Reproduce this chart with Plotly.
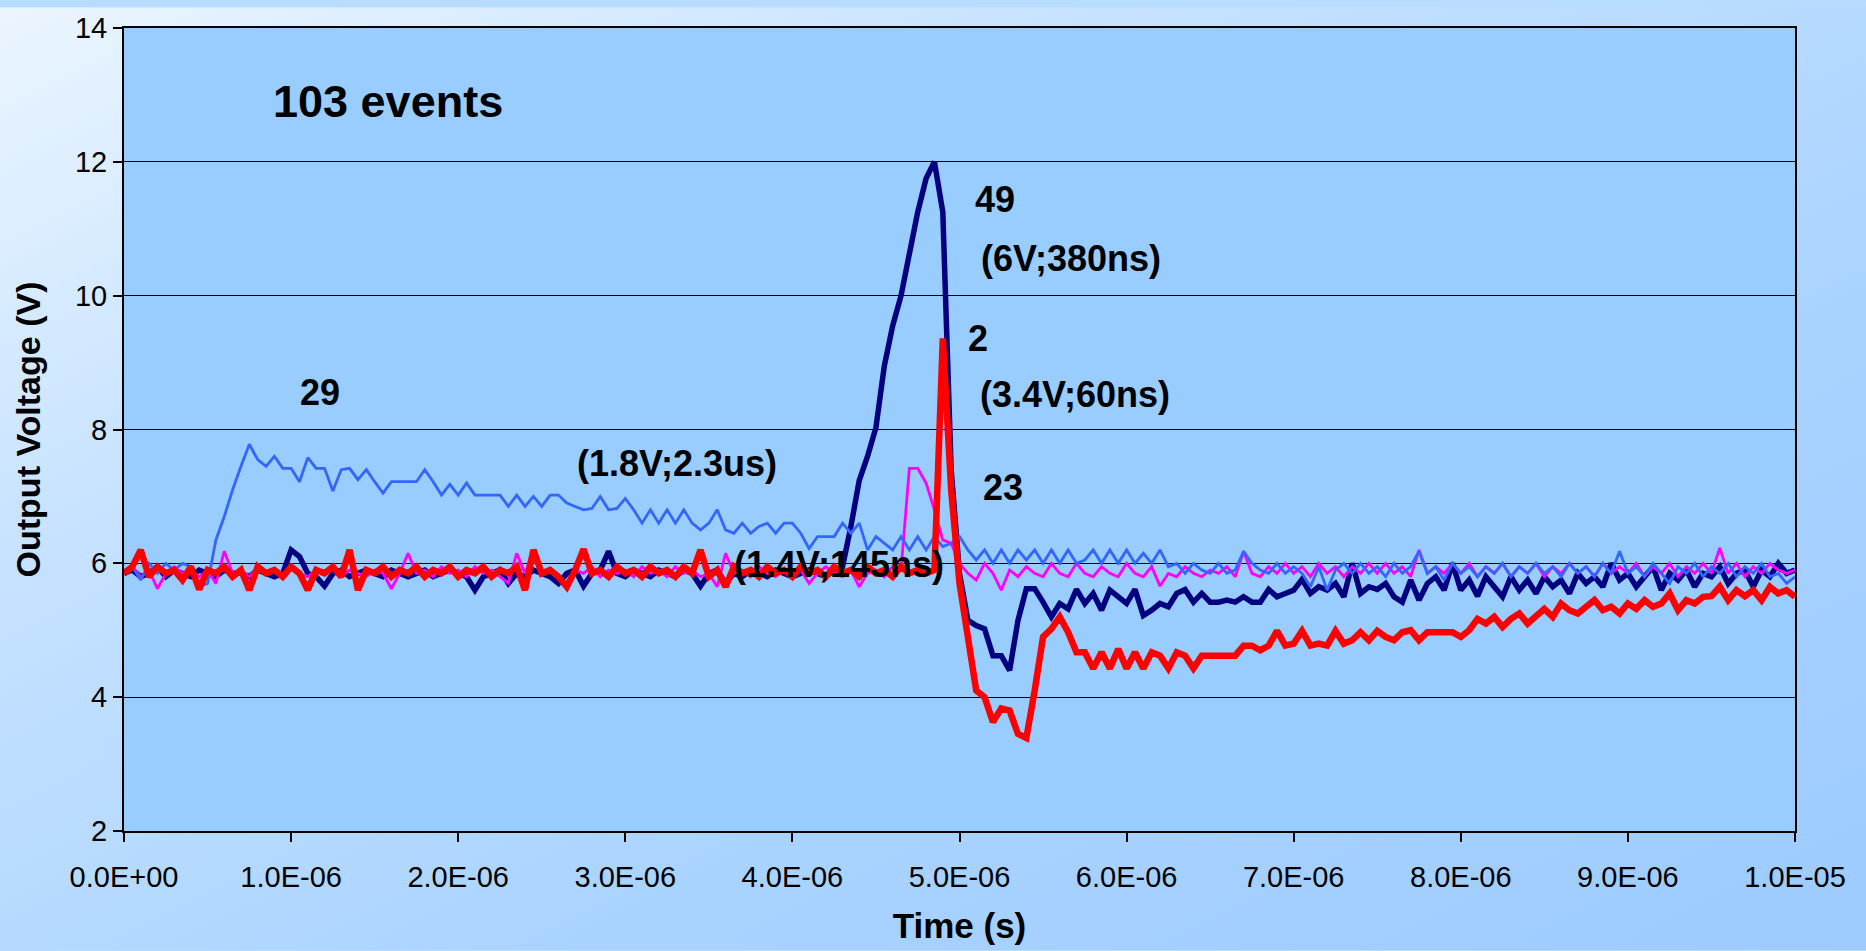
import base64
import plotly.graph_objects as go

# ---------------- data (time in microseconds, voltage in V) ----------------
t_us = [round(i * 0.05, 2) for i in range(201)]

v_29 = [
    5.90, 5.95, 5.75, 6.00, 5.85, 6.00, 5.90, 6.00, 5.95, 5.65,
    5.70, 6.35, 6.70, 7.10, 7.45, 7.78, 7.55, 7.45, 7.60, 7.42,
    7.42, 7.22, 7.58, 7.42, 7.42, 7.08, 7.40, 7.42, 7.25, 7.40,
    7.22, 7.05, 7.22, 7.22, 7.22, 7.22, 7.40, 7.22, 7.02, 7.18,
    7.02, 7.20, 7.02, 7.02, 7.02, 7.02, 6.85, 7.02, 6.85, 7.00,
    6.85, 7.02, 7.02, 6.90, 6.85, 6.80, 6.82, 7.00, 6.80, 6.82,
    6.97, 6.80, 6.60, 6.80, 6.60, 6.80, 6.60, 6.80, 6.60, 6.50,
    6.60, 6.80, 6.50, 6.45, 6.60, 6.45, 6.55, 6.60, 6.45, 6.60,
    6.60, 6.45, 6.22, 6.40, 6.40, 6.40, 6.60, 6.45, 6.60, 6.20,
    6.40, 6.30, 6.20, 6.40, 6.20, 6.40, 6.20, 6.40, 6.25, 6.30,
    6.40, 6.20, 6.05, 6.20, 6.00, 6.20, 6.00, 6.20, 6.05, 6.20,
    6.00, 6.20, 6.00, 6.20, 6.00, 6.05, 6.20, 6.00, 6.20, 6.00,
    6.20, 6.00, 6.15, 6.00, 6.20, 5.95, 6.00, 5.85, 6.00, 5.90,
    5.85, 6.00, 5.85, 5.90, 6.18, 6.00, 5.90, 5.85, 6.00, 5.85,
    5.95, 5.85, 5.65, 5.95, 5.60, 5.90, 6.00, 5.85, 6.00, 5.85,
    5.95, 5.80, 6.00, 5.85, 5.95, 6.18, 5.85, 5.95, 5.75, 6.00,
    5.85, 5.95, 5.80, 5.95, 5.85, 6.00, 5.80, 5.95, 5.85, 6.00,
    5.85, 5.95, 5.80, 6.00, 5.85, 5.95, 5.80, 6.00, 5.85, 6.18,
    5.85, 5.95, 5.80, 6.00, 5.85, 5.70, 5.95, 5.85, 6.00, 5.80,
    5.95, 5.85, 6.00, 5.80, 5.95, 5.85, 6.00, 5.80, 5.85, 5.70,
    5.80,
]

v_23 = [
    5.85, 5.95, 5.80, 5.90, 5.62, 5.85, 5.95, 5.85, 5.90, 5.80,
    5.90, 5.70, 6.18, 5.85, 5.90, 5.80, 5.95, 5.85, 5.90, 5.80,
    5.95, 5.85, 5.80, 5.90, 5.85, 5.95, 5.80, 5.90, 5.85, 5.80,
    5.90, 5.85, 5.62, 5.85, 6.15, 5.85, 5.90, 5.80, 5.95, 5.85,
    5.90, 5.80, 5.95, 5.85, 5.90, 5.80, 5.70, 6.15, 5.85, 6.20,
    5.85, 5.90, 5.80, 5.62, 5.90, 5.85, 5.95, 5.80, 5.90, 5.85,
    5.90, 5.80, 5.95, 5.85, 5.90, 5.80, 5.95, 5.85, 5.90, 5.80,
    5.85, 5.65, 6.15, 5.85, 5.90, 5.80, 5.95, 5.85, 5.80, 5.90,
    5.85, 5.90, 5.70, 5.85, 5.95, 5.85, 5.80, 5.90, 5.65, 5.85,
    5.90, 5.80, 5.95, 5.90, 7.42, 7.42, 7.20, 6.80, 6.35, 6.30,
    6.00, 5.85, 5.75, 6.00, 5.85, 5.60, 5.90, 5.80, 5.95, 5.85,
    5.80, 6.00, 5.85, 5.80, 6.00, 5.85, 5.80, 5.95, 5.85, 5.80,
    6.00, 5.85, 5.80, 5.95, 5.66, 5.85, 5.80, 5.95, 5.85, 5.80,
    5.90, 5.85, 5.95, 5.80, 6.18, 5.85, 5.80, 5.95, 5.85, 6.00,
    5.85, 5.95, 5.80, 6.00, 5.85, 5.95, 5.80, 5.95, 5.85, 6.00,
    5.85, 6.00, 5.85, 5.95, 5.80, 6.20, 5.85, 5.95, 5.85, 6.00,
    5.85, 6.00, 5.80, 5.95, 5.85, 6.00, 5.80, 5.95, 5.85, 6.00,
    5.80, 5.95, 5.85, 6.00, 5.85, 5.95, 5.80, 6.00, 5.85, 5.95,
    5.85, 6.00, 5.80, 5.95, 5.85, 6.00, 5.80, 5.95, 5.85, 6.00,
    5.85, 6.23, 5.85, 6.00, 5.80, 5.95, 5.85, 6.00, 5.90, 5.85,
    5.90,
]

v_49 = [
    5.85, 5.90, 5.80, 5.85, 5.95, 5.80, 5.90, 5.85, 5.80, 5.90,
    5.85, 5.80, 5.90, 5.85, 5.85, 5.80, 5.90, 5.85, 5.80, 5.85,
    6.20, 6.10, 5.85, 5.80, 5.66, 5.85, 5.90, 5.80, 5.85, 5.90,
    5.85, 5.80, 5.90, 5.85, 5.80, 5.85, 5.90, 5.80, 5.85, 5.90,
    5.85, 5.80, 5.60, 5.80, 5.85, 5.90, 5.70, 5.85, 5.80, 5.90,
    5.85, 5.80, 5.70, 5.85, 5.90, 5.66, 5.85, 5.90, 6.18, 5.85,
    5.80, 5.90, 5.85, 5.80, 5.90, 5.85, 5.80, 5.90, 5.85, 5.66,
    5.85, 5.90, 5.70, 5.85, 5.80, 5.90, 5.85, 5.80, 5.90, 5.85,
    5.80, 5.85, 5.90, 5.85, 5.80, 5.90, 5.95, 6.55, 7.24, 7.60,
    8.03, 8.95, 9.55, 10.00, 10.63, 11.25, 11.75, 12.00, 11.25, 7.40,
    5.85, 5.15, 5.07, 5.02, 4.62, 4.62, 4.40, 5.15, 5.62, 5.62,
    5.42, 5.20, 5.40, 5.32, 5.61, 5.40, 5.55, 5.30, 5.60, 5.50,
    5.40, 5.61, 5.22, 5.30, 5.40, 5.35, 5.55, 5.61, 5.42, 5.55,
    5.42, 5.42, 5.45, 5.42, 5.50, 5.42, 5.42, 5.61, 5.50, 5.55,
    5.60, 5.76, 5.55, 5.65, 5.60, 5.70, 5.50, 6.00, 5.55, 5.65,
    5.61, 5.70, 5.50, 5.42, 5.75, 5.45, 5.70, 5.80, 5.60, 6.00,
    5.60, 5.75, 5.51, 5.80, 5.65, 5.50, 5.80, 5.60, 5.75, 5.55,
    5.80, 5.65, 5.75, 5.55, 5.85, 5.70, 5.80, 5.65, 6.00, 5.75,
    5.85, 5.65, 5.80, 5.95, 5.60, 5.85, 5.75, 5.90, 5.65, 5.85,
    5.80, 5.95, 5.70, 5.85, 5.90, 5.65, 5.90, 5.80, 6.00, 5.85,
    5.90,
]

v_2 = [
    5.85, 5.95, 6.20, 5.80, 5.95, 5.85, 5.90, 5.75, 5.95, 5.61,
    5.90, 5.85, 5.95, 5.80, 5.90, 5.60, 5.95, 5.85, 5.90, 5.80,
    5.95, 5.85, 5.60, 5.90, 5.85, 5.95, 5.80, 6.20, 5.60, 5.90,
    5.85, 5.95, 5.80, 5.90, 5.85, 5.95, 5.80, 5.90, 5.85, 5.95,
    5.80, 5.90, 5.85, 5.95, 5.80, 5.90, 5.85, 5.95, 5.60, 6.20,
    5.85, 5.90, 5.80, 5.65, 5.90, 6.21, 5.85, 5.90, 5.80, 5.95,
    5.85, 5.90, 5.80, 5.95, 5.85, 5.90, 5.80, 5.95, 5.85, 6.20,
    5.80, 5.90, 5.65, 5.95, 5.85, 5.90, 5.80, 5.95, 5.85, 5.90,
    5.80, 5.95, 5.85, 5.90, 5.80, 5.95, 5.85, 5.90, 5.80, 5.95,
    5.85, 5.90, 5.80, 5.95, 5.85, 5.90, 5.85, 5.90, 9.36, 7.10,
    5.70, 4.90, 4.10, 4.00, 3.63, 3.83, 3.80, 3.45, 3.39, 4.10,
    4.90, 5.02, 5.20, 4.97, 4.67, 4.67, 4.43, 4.67, 4.43, 4.72,
    4.43, 4.67, 4.43, 4.67, 4.62, 4.43, 4.67, 4.62, 4.43, 4.62,
    4.62, 4.62, 4.62, 4.62, 4.77, 4.77, 4.70, 4.77, 4.99, 4.77,
    4.80, 4.99, 4.77, 4.80, 4.77, 4.99, 4.80, 4.85, 4.97, 4.85,
    4.99, 4.90, 4.85, 4.97, 5.00, 4.85, 4.97, 4.97, 4.95, 4.97,
    4.90, 5.00, 5.17, 5.10, 5.20, 5.05, 5.17, 5.25, 5.10, 5.20,
    5.32, 5.20, 5.40, 5.30, 5.25, 5.35, 5.45, 5.30, 5.35, 5.25,
    5.40, 5.32, 5.45, 5.35, 5.40, 5.55, 5.30, 5.45, 5.40, 5.50,
    5.51, 5.65, 5.45, 5.60, 5.51, 5.60, 5.45, 5.65, 5.55, 5.60,
    5.50,
]

x_tick_vals_s = [0, 1e-6, 2e-6, 3e-6, 4e-6, 5e-6, 6e-6, 7e-6, 8e-6, 9e-6, 1e-5]
x_tick_text = ["0.0E+00", "1.0E-06", "2.0E-06", "3.0E-06", "4.0E-06", "5.0E-06",
               "6.0E-06", "7.0E-06", "8.0E-06", "9.0E-06", "1.0E-05"]
y_tick_vals = [2, 4, 6, 8, 10, 12, 14]

# annotation texts with (time in us, voltage) anchor
labels = [
    ("103 events", 1.58, 12.90, 45),
    ("29", 1.17, 8.55, 36),
    ("(1.8V;2.3us)", 3.31, 7.49, 36),
    ("(1.4V;145ns)", 4.28, 5.99, 36),
    ("49", 5.21, 11.44, 36),
    ("(6V;380ns)", 5.67, 10.56, 36),
    ("2", 5.11, 9.36, 36),
    ("(3.4V;60ns)", 5.69, 8.53, 36),
    ("23", 5.26, 7.14, 36),
]

# ---------------- figure ----------------
W, H = 1866, 951
ML, MR, MT, MB = 124, 71, 21, 120
FONT = "Liberation Sans, Arial, sans-serif"

t_s = [v * 1e-6 for v in t_us]

fig = go.Figure()
traces = [
    (v_49, "#000080", 5.5),
    (v_23, "#FF00FF", 2.8),
    (v_29, "#3366FF", 2.8),
    (v_2, "#FF0000", 6.5),
]
for vals, col, w in traces:
    fig.add_trace(go.Scatter(x=t_s, y=vals, mode="lines",
                             line=dict(color=col, width=w), showlegend=False,
                             hoverinfo="skip"))

for txt, tx, vy, fs in labels:
    fig.add_annotation(x=tx * 1e-6, y=vy, text="<b>%s</b>" % txt, showarrow=False,
                       xanchor="center", yanchor="middle",
                       font=dict(family=FONT, size=fs, color="black"))

# gradient page background
svg = (
    "<svg xmlns='http://www.w3.org/2000/svg' width='%d' height='%d' "
    "preserveAspectRatio='none'>"
    "<defs><linearGradient id='g' x1='0' y1='0' x2='1' y2='1'>"
    "<stop offset='0' stop-color='#EBF5FF'/>"
    "<stop offset='0.30' stop-color='#C6E2FF'/>"
    "<stop offset='0.65' stop-color='#A9D3FF'/>"
    "<stop offset='1' stop-color='#9DCBFF'/>"
    "</linearGradient></defs>"
    "<rect width='%d' height='%d' fill='url(#g)'/></svg>" % (W, H, W, H)
)
src = "data:image/svg+xml;base64," + base64.b64encode(svg.encode()).decode()
pw, ph = W - ML - MR, H - MT - MB
fig.add_layout_image(dict(source=src, xref="paper", yref="paper",
                          x=-ML / pw, y=1 + MT / ph, sizex=W / pw, sizey=H / ph,
                          xanchor="left", yanchor="top", sizing="stretch",
                          layer="below"))
fig.add_shape(type="rect", xref="paper", yref="paper", x0=0, x1=1, y0=0, y1=1,
              fillcolor="#99CCFF", line=dict(width=0), layer="below")

fig.update_layout(
    width=W, height=H,
    margin=dict(l=ML, r=MR, t=MT, b=MB),
    paper_bgcolor="#B8DCFF",
    plot_bgcolor="rgba(0,0,0,0)",
    font=dict(family=FONT, color="black"),
    showlegend=False,
)
fig.update_xaxes(
    range=[0, 1e-5], tickvals=x_tick_vals_s, ticktext=x_tick_text,
    ticks="outside", ticklen=9, tickwidth=1.5, tickcolor="black",
    ticklabelstandoff=10,
    showline=True, linecolor="black", linewidth=2, mirror=True,
    showgrid=False, zeroline=False,
    tickfont=dict(family=FONT, size=29, color="black"),
    title=dict(text="<b>Time (s)</b>", font=dict(family=FONT, size=35, color="black"),
               standoff=22),
)
fig.update_yaxes(
    range=[2, 14], tickvals=y_tick_vals,
    ticks="outside", ticklen=9, tickwidth=1.5, tickcolor="black",
    showline=True, linecolor="black", linewidth=2, mirror=True,
    showgrid=True, gridcolor="black", gridwidth=1, zeroline=False,
    tickfont=dict(family=FONT, size=29, color="black"),
    title=dict(text="<b>Output Voltage (V)</b>", font=dict(family=FONT, size=34, color="black"),
               standoff=24),
)

fig.write_html("out.html")
